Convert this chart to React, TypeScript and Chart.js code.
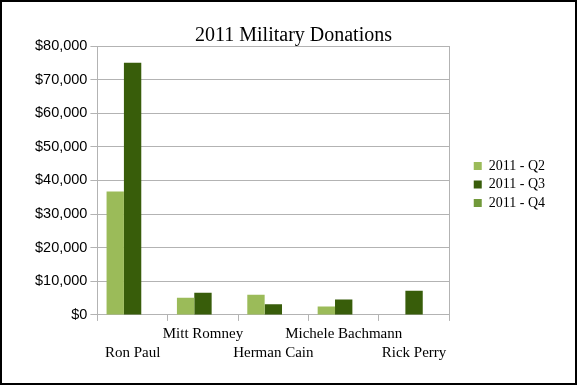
import React, { useEffect, useRef } from "react";
import { Chart, registerables } from "chart.js";

Chart.register(...registerables);

const categories = ["Ron Paul", "Mitt Romney", "Herman Cain", "Michele Bachmann", "Rick Perry"];
const seriesNames = ["2011 - Q2", "2011 - Q3", "2011 - Q4"];
const q2Values = [36700, 5100, 6000, 2500, 0];
const q3Values = [75000, 6600, 3200, 4600, 7200];
const q4Values = [0, 0, 0, 0, 0];
const seriesColors = ["#9BBB59", "#385D0A", "#71993A"];
const yMin = 0;
const yMax = 80000;
const yStep = 10000;
const titleText = "2011 Military Donations";

export default function App() {
  const canvasRef = useRef<HTMLCanvasElement | null>(null);

  useEffect(() => {
    if (!canvasRef.current) return;
    const gridColor = "#B3B3B3";
    const chart = new Chart(canvasRef.current, {
      type: "bar",
      data: {
        labels: categories,
        datasets: [q2Values, q3Values, q4Values].map((vals, i) => ({
          label: seriesNames[i],
          data: vals,
          backgroundColor: seriesColors[i],
          borderWidth: 0,
          categoryPercentage: 0.74,
          barPercentage: 1.0,
        })),
      },
      options: {
        animation: false,
        responsive: false,
        devicePixelRatio: 1,
        layout: { padding: { top: 0, left: 30, bottom: 16, right: 20 } },
        plugins: {
          title: {
            display: true,
            text: titleText,
            color: "#000",
            font: {
              family: "'Liberation Serif', 'Times New Roman', serif",
              size: 20,
              weight: "normal",
              lineHeight: 1.0,
            },
            padding: { top: 24, bottom: 0 },
          },
          legend: {
            position: "right",
            labels: {
              boxWidth: 8,
              boxHeight: 8,
              padding: 4.5,
              color: "#000",
              font: { family: "'Liberation Serif', 'Times New Roman', serif", size: 14 },
            },
          },
          tooltip: { enabled: false },
        },
        scales: {
          x: {
            grid: {
              offset: true,
              drawOnChartArea: false,
              drawTicks: true,
              tickLength: 6,
              color: gridColor,
            },
            border: { color: gridColor },
            ticks: {
              autoSkip: false,
              maxRotation: 0,
              minRotation: 0,
              padding: 4,
              color: "#000",
              font: { family: "'Liberation Serif', 'Times New Roman', serif", size: 15, lineHeight: 1.27 },
              callback: (_v: any, idx: number) =>
                idx % 2 === 0 ? ["", categories[idx]] : [categories[idx], ""],
            },
          },
          y: {
            min: yMin,
            max: yMax,
            grid: { color: gridColor, tickLength: 7 },
            border: { color: gridColor },
            ticks: {
              stepSize: yStep,
              padding: 3,
              color: "#000",
              font: { family: "'Liberation Sans', Arial, sans-serif", size: 14.5 },
              callback: (v: any) => "$" + Number(v).toLocaleString("en-US"),
            },
          },
          yRight: {
            position: "right",
            min: yMin,
            max: yMax,
            grid: { drawOnChartArea: false, drawTicks: false },
            border: { color: gridColor },
            ticks: { display: false },
            afterFit: (scale: any) => {
              scale.width = 20;
            },
          },
        },
      },
    });
    return () => chart.destroy();
  }, []);

  return (
    <div
      style={{
        position: "absolute",
        left: 0,
        top: 0,
        width: 577,
        height: 385,
        boxSizing: "border-box",
        border: "2px solid #000",
        background: "#fff",
      }}
    >
      <canvas ref={canvasRef} width={573} height={381} style={{ display: "block" }} />
    </div>
  );
}
